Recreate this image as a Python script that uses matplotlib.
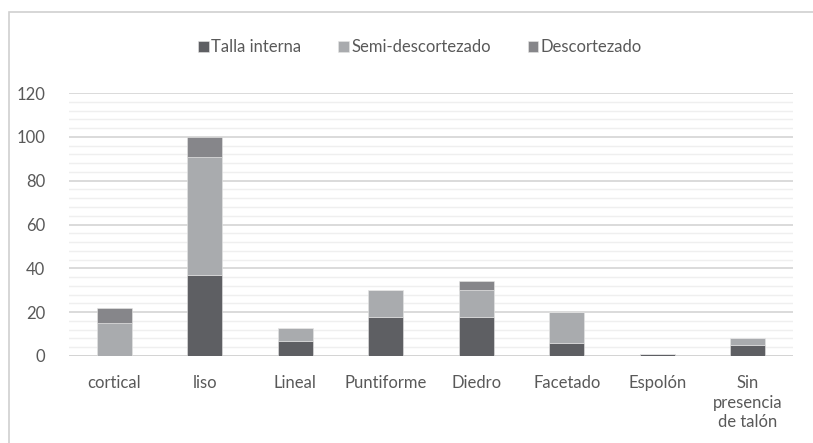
import matplotlib.pyplot as plt
from matplotlib.patches import Rectangle
from matplotlib.ticker import MultipleLocator
import numpy as np

categories = ["cortical", "liso", "Lineal", "Puntiforme", "Diedro",
              "Facetado", "Espolón", "Sin\npresencia\nde talón"]
talla_interna = [0, 37, 7, 18, 18, 6, 1, 5]
semi_descortezado = [15, 54, 6, 12, 12, 14, 0, 3]
descortezado = [7, 9, 0, 0, 4, 0, 0, 0]

series = [
    ("Talla interna", talla_interna, "#5e5f63"),
    ("Semi-descortezado", semi_descortezado, "#a9abae"),
    ("Descortezado", descortezado, "#86868a"),
]

plt.rcParams["font.family"] = ["Lato", "DejaVu Sans"]
text_color = "#595959"

fig = plt.figure(figsize=(8.13, 4.43), dpi=100)
ax = fig.add_axes([69 / 813, 1 - 356 / 443, (793 - 69) / 813, (356 - 93) / 443])

# outer chart frame (only top and left edges are visible in the crop)
fig.patches.append(Rectangle((9 / 813, -0.1), 1.2, 1 - 12 / 443 + 0.1,
                             transform=fig.transFigure, fill=False,
                             edgecolor="#d0d0d0", linewidth=1.2))

x = np.arange(len(categories))
bottom = np.zeros(len(categories))
for label, values, color in series:
    ax.bar(x, values, 0.39, bottom=bottom, color=color, label=label,
           edgecolor="#e6e6e6", linewidth=0.4, zorder=3)
    bottom += np.array(values)

ax.set_xlim(-0.5, len(categories) - 0.5)
ax.set_ylim(0, 120)
ax.yaxis.set_major_locator(MultipleLocator(20))
ax.yaxis.set_minor_locator(MultipleLocator(4))
ax.grid(axis="y", which="major", color="#d4d4d4", linewidth=1.2, zorder=0)
ax.grid(axis="y", which="minor", color="#efefef", linewidth=1.0, zorder=0)
ax.axhline(0, color="#d4d4d4", linewidth=1.4, zorder=2)

for side in ["top", "right", "left", "bottom"]:
    ax.spines[side].set_visible(False)

ax.set_xticks(x)
ax.set_xticklabels(categories, fontsize=12, color=text_color, linespacing=1.25,
                   va="top")
ax.tick_params(axis="x", length=0, pad=14)
ax.tick_params(axis="y", which="both", length=0, labelsize=12,
               labelcolor=text_color, pad=17)

leg = fig.legend(loc="center", bbox_to_anchor=(420 / 813, 1 - 47 / 443),
                 ncol=3, frameon=False, fontsize=12, handlelength=0.65,
                 handleheight=0.65, handletextpad=0.15, columnspacing=2.2)
for t in leg.get_texts():
    t.set_color(text_color)

fig.savefig("out.png", dpi=100)
